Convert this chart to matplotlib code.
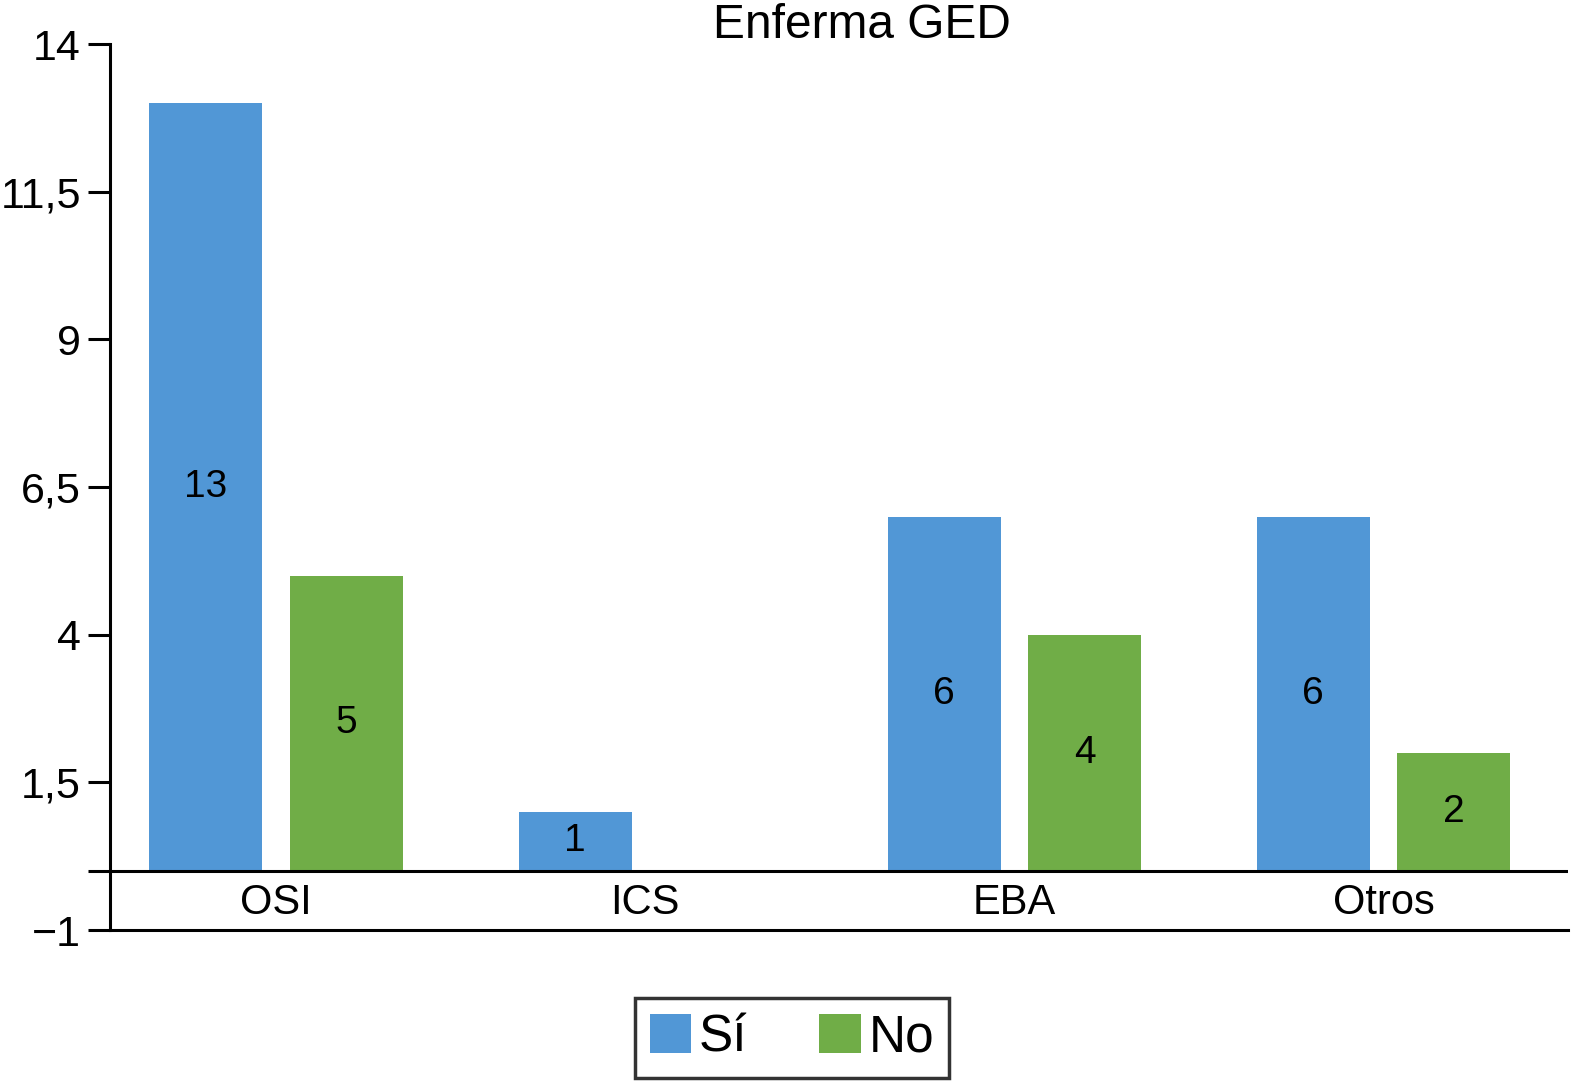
import numpy as np
import matplotlib.pyplot as plt

plt.rcParams['font.family'] = ['Liberation Sans', 'DejaVu Sans']

# datos
categorias = ['OSI', 'ICS', 'EBA', 'Otros']
si = [13, 1, 6, 6]
no = [5, 0, 4, 2]
series = ['Sí', 'No']
yticks = [-1, 0, 1.5, 4, 6.5, 9, 11.5, 14]
ytick_labels = ['\u22121', '', '1,5', '4', '6,5', '9', '11,5', '14']

azul = '#5197d6'
verde = '#70ad47'

fig = plt.figure(figsize=(15.85, 10.91), dpi=100)
ax = fig.add_axes([110 / 1585, 1 - 930 / 1091, (1568 - 110) / 1585, (930 - 44) / 1091])

x = np.arange(len(categorias))
ancho = 0.306
desp = 0.19
b1 = ax.bar(x - desp, si, ancho, color=azul, label=series[0])
b2 = ax.bar(x + desp, no, ancho, color=verde, label=series[1])

# etiquetas dentro de las barras
for barras, vals in ((b1, si), (b2, no)):
    for b, v in zip(barras, vals):
        if v > 0:
            ax.text(b.get_x() + b.get_width() / 2, v / 2, str(v),
                    ha='center', va='center', fontsize=28)

# nombres de categoría entre 0 y -1
for xi, c in zip(x, categorias):
    ax.text(xi, -0.55, c, ha='center', va='center', fontsize=30)

ax.set_xlim(-0.45, 3.5)
ax.set_ylim(-1, 14)
ax.set_yticks(yticks)
ax.set_yticklabels(ytick_labels, fontsize=31)
ax.set_xticks([])
ax.tick_params(axis='y', length=16, width=2.2, pad=5)
ax.axhline(0, color='black', lw=2.2)

for s in ['top', 'right']:
    ax.spines[s].set_visible(False)
ax.spines['left'].set_linewidth(2.2)
ax.spines['bottom'].set_linewidth(2.2)

fig.text(862 / 1585, 1 - 25 / 1091, 'Enferma GED', ha='center', va='center', fontsize=34.5)

leg = fig.legend(loc='center', bbox_to_anchor=(792 / 1585, 1 - 1038 / 1091), ncol=2,
                 fontsize=37, handlelength=0.8, handleheight=0.8, handletextpad=0.15,
                 columnspacing=1.4, borderpad=0.3, fancybox=False, edgecolor='black')
leg.get_frame().set_linewidth(2.5)

plt.savefig('out.png', dpi=100)
